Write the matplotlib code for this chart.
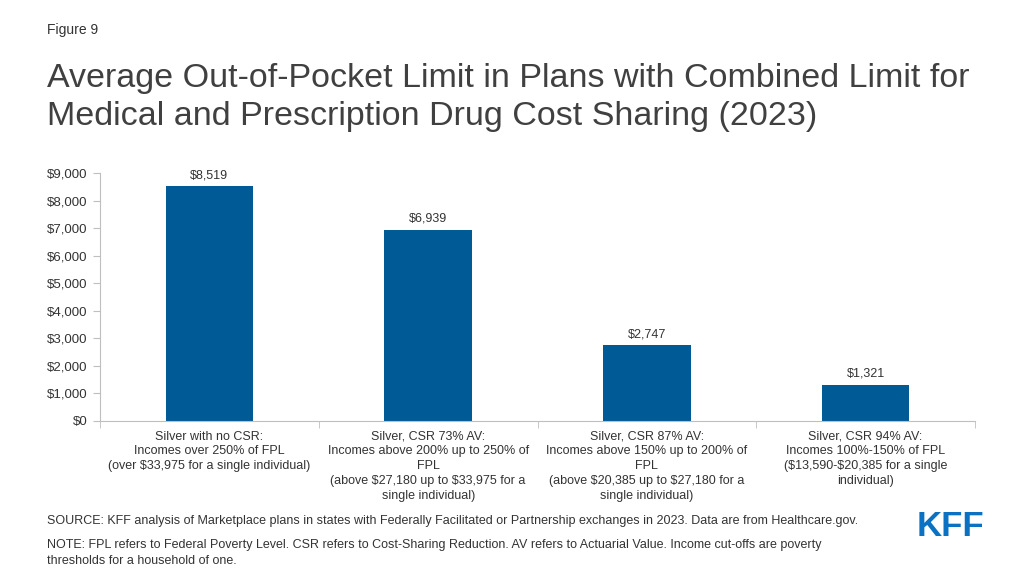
import matplotlib
matplotlib.use('Agg')
from matplotlib import pyplot as plt
from matplotlib.ticker import FuncFormatter, FixedLocator

categories = [
    'Silver with no CSR:\nIncomes over 250% of FPL\n(over $33,975 for a single individual)',
    'Silver, CSR 73% AV:\nIncomes above 200% up to 250% of\nFPL\n(above $27,180 up to $33,975 for a\nsingle individual)',
    'Silver, CSR 87% AV:\nIncomes above 150% up to 200% of\nFPL\n(above $20,385 up to $27,180 for a\nsingle individual)',
    'Silver, CSR 94% AV:\nIncomes 100%-150% of FPL\n($13,590-$20,385 for a single\nindividual)',
]
values = [8519, 6939, 2747, 1321]
yticks = [0, 1000, 2000, 3000, 4000, 5000, 6000, 7000, 8000, 9000]

plt.rcParams['font.family'] = ['Liberation Sans', 'DejaVu Sans']
plt.rcParams['text.parse_math'] = False
text_col = '#333333'
bar_col = '#005a96'
axis_col = '#bfbfbf'

fig = plt.figure(figsize=(10.24, 5.76), dpi=100)
ax = fig.add_axes([100/1024, 1 - 421/576, 875/1024, (421 - 173)/576])

x = list(range(len(values)))
bars = ax.bar(x, values, width=0.4, color=bar_col)
for xi, v in zip(x, values):
    ax.text(xi, v + 180, f'${v:,}', ha='center', va='bottom', fontsize=9, color=text_col)

ax.set_xlim(-0.5, len(values) - 0.5)
ax.set_ylim(0, 9000)
ax.set_yticks(yticks)
ax.yaxis.set_major_formatter(FuncFormatter(lambda v, p: f'${int(v):,}'))
ax.tick_params(axis='y', labelsize=9.5, colors=text_col, length=5, color=axis_col, pad=4)

ax.set_xticks(x)
ax.set_xticklabels(categories, fontsize=9, color=text_col, linespacing=1.3, va='top')
ax.tick_params(axis='x', length=0, pad=7)
ax.xaxis.set_minor_locator(FixedLocator([-0.5, 0.5, 1.5, 2.5, 3.5]))
ax.tick_params(axis='x', which='minor', length=5, color=axis_col)

for s in ['top', 'right']:
    ax.spines[s].set_visible(False)
for s in ['left', 'bottom']:
    ax.spines[s].set_color(axis_col)

fig.text(47/1024, 1 - 30/576, 'Figure 9', fontsize=10, color=text_col, va='center')
fig.text(47/1024, 1 - 63/576,
         'Average Out-of-Pocket Limit in Plans with Combined Limit for\n'
         'Medical and Prescription Drug Cost Sharing (2023)',
         fontsize=24.5, color='#404040', va='top', linespacing=1.3)

fig.text(47/1024, 1 - 521/576,
         'SOURCE: KFF analysis of Marketplace plans in states with Federally Facilitated or Partnership exchanges in 2023. Data are from Healthcare.gov.',
         fontsize=9, color=text_col, va='center')
fig.text(47/1024, 1 - 539/576,
         'NOTE: FPL refers to Federal Poverty Level. CSR refers to Cost-Sharing Reduction. AV refers to Actuarial Value. Income cut-offs are poverty\n'
         'thresholds for a household of one.',
         fontsize=9, color=text_col, va='top', linespacing=1.4)
fig.text(950/1024, 1 - 526/576, 'KFF', fontsize=25, fontweight='bold', color='#0b72c3',
         ha='center', va='center')

fig.savefig('out.png', dpi=100)
